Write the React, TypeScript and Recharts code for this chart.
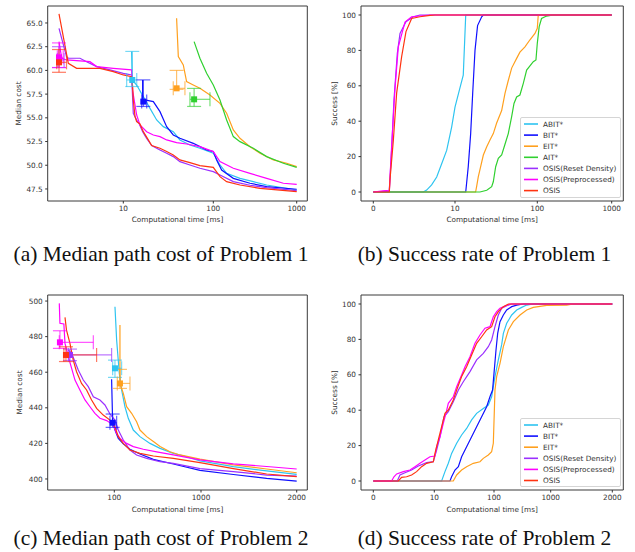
import React from 'react';
import { ComposedChart, Line, Scatter, XAxis, YAxis, ErrorBar, ReferenceArea, Label } from 'recharts';

type Pt = [number, number];
type Marker = { t: number; v: number; tLo: number; tHi: number; vLo: number; vHi: number };

const NAMES = ['ABIT*', 'BIT*', 'EIT*', 'AIT*', 'OSIS(Reset Density)', 'OSIS(Preprocessed)', 'OSIS'];
const COLORS = ['#2ec4f0', '#1010ff', '#ffa01e', '#30d030', '#9b30ff', '#ff00ff', '#ff3311'];

// Problem 1 - median cost, [time ms, cost]
const p1CostABIT: Pt[] = [[12.37, 61.98], [12.58, 58.99], [14.07, 58.46], [16.69, 57.23], [19.8, 56.0], [23.48, 54.77], [27.84, 54.07], [35.94, 53.54], [42.57, 52.67], [55.0, 52.14], [71.0, 51.79], [100, 51.26], [120.2, 50.03], [144.5, 49.15], [208.9, 48.62], [301.9, 48.27], [436.5, 47.92], [1000, 47.39]];
const p1CostBIT: Pt[] = [[16.4, 58.99], [16.4, 56.71], [17.42, 56.88], [21.56, 56.71], [25.56, 55.65], [30.32, 54.07], [35.94, 53.19], [42.57, 52.84], [59.9, 52.31], [71.0, 51.96], [84.3, 51.61], [100, 51.44], [109.6, 50.56], [125.9, 49.5], [173.8, 48.62], [275.4, 48.1], [436.5, 47.75], [1000, 47.47]];
const p1CostEIT: Pt[] = [[39.1, 65.49], [40.86, 61.45], [46.4, 60.57], [50.5, 58.82], [59.9, 58.46], [71.0, 58.11], [91.8, 57.41], [120.2, 56.53], [144.5, 55.48], [173.8, 53.72], [208.9, 52.84], [275.4, 51.96], [363.1, 51.26], [524.8, 50.56], [758.6, 50.21], [1000, 49.85]];
const p1CostAIT: Pt[] = [[61.2, 63.03], [71.0, 61.28], [84.3, 59.69], [100, 58.46], [120.2, 56.88], [144.5, 54.77], [173.8, 53.02], [208.9, 52.49], [301.9, 51.79], [436.5, 50.91], [691.8, 50.21], [1000, 49.78]];
const p1CostOSISRD: Pt[] = [[1.93, 64.44], [2.34, 61.45], [2.45, 61.28], [3.3, 61.28], [3.91, 60.92], [5.06, 60.4], [7.11, 60.05], [10, 59.69], [12.37, 59.52], [12.91, 55.48], [14.07, 54.77], [15.06, 54.35], [16.4, 53.54], [18.18, 52.84], [20.66, 52.07], [25.56, 51.61], [30.32, 51.26], [35.94, 50.91], [42.57, 50.38], [55.0, 50.03], [71.0, 49.68], [100, 49.33], [120.2, 48.98], [173.8, 48.27], [275.4, 47.89], [436.5, 47.64], [1000, 47.32]];
const p1CostOSISP: Pt[] = [[1.93, 63.03], [2.07, 61.28], [2.34, 61.1], [4.26, 60.92], [5.06, 60.4], [7.74, 60.22], [12.37, 60.05], [12.69, 57.9], [14.07, 55.3], [15.32, 54.25], [18.18, 53.54], [21.56, 53.19], [25.56, 53.02], [30.32, 52.67], [39.1, 52.38], [50.5, 52.24], [71.0, 51.96], [100, 51.44], [120.2, 50.38], [173.8, 49.68], [275.4, 49.15], [436.5, 48.62], [691.8, 48.1], [1000, 47.99]];
const p1CostOSIS: Pt[] = [[1.93, 65.95], [2.45, 60.75], [3.03, 60.22], [5.51, 60.22], [7.74, 59.87], [10, 59.52], [12.37, 59.34], [12.69, 58.29], [12.91, 56.88], [13.5, 55.13], [14.07, 54.6], [15.32, 54.35], [16.69, 53.54], [18.97, 52.67], [20.66, 52.07], [25.56, 51.79], [30.32, 51.44], [35.94, 51.08], [42.57, 50.56], [55.0, 50.28], [71.0, 49.96], [100, 49.78], [120.2, 48.8], [144.5, 48.27], [208.9, 47.92], [363.1, 47.57], [1000, 47.22]];

const p1Markers: Marker[] = [
  { t: 12.58, v: 58.99, tLo: 10.9, tHi: 14.1, vLo: 58.3, vHi: 62.0 },
  { t: 16.69, v: 56.71, tLo: 16.0, tHi: 18.2, vLo: 56.2, vHi: 59.0 },
  { t: 39.1, v: 58.11, tLo: 35.9, tHi: 48.4, vLo: 58.0, vHi: 60.0 },
  { t: 61.2, v: 56.95, tLo: 55.0, tHi: 91.8, vLo: 56.2, vHi: 58.1 },
  { t: 1.93, v: 61.1, tLo: 1.85, tHi: 2.2, vLo: 60.3, vHi: 62.5 },
  { t: 1.93, v: 61.38, tLo: 1.85, tHi: 2.15, vLo: 60.3, vHi: 62.9 },
  { t: 1.93, v: 60.85, tLo: 1.82, tHi: 2.34, vLo: 59.8, vHi: 62.2 },
];

// Problem 1 - success rate, [time ms, %]
const p1SuccABIT: Pt[] = [[0, 0], [6.12, 0], [6.53, 1.1], [7.14, 4], [7.76, 8.5], [8.37, 16], [8.98, 23.5], [9.59, 36.7], [10, 48], [11.3, 57.6], [12.6, 66], [13.5, 100], [1000, 100]];
const p1SuccBIT: Pt[] = [[0, 0], [13.5, 0], [14.5, 14.5], [15.5, 33], [16.4, 55.7], [17.5, 80], [18.8, 94], [21.1, 99], [22.1, 100], [1000, 100]];
const p1SuccEIT: Pt[] = [[0, 0], [17.8, 0], [18.3, 3], [19.2, 8.7], [20.5, 14.3], [22.1, 20.9], [24.3, 25.6], [26.6, 29.4], [29.2, 33], [32.0, 38.8], [36.9, 46], [40.5, 55.7], [44.4, 63], [48.8, 70], [56.1, 75.5], [61.5, 79], [70.8, 82], [81.5, 86], [93.7, 89.6], [100, 92.5], [103, 100], [1000, 100]];
const p1SuccAIT: Pt[] = [[0, 0], [20.1, 0], [24.3, 1], [27.9, 3], [29.2, 5.8], [31.2, 14.3], [33.6, 19], [36.9, 21], [40.5, 27], [44.4, 33], [48.8, 42.6], [52.1, 50], [56.1, 53.7], [61.5, 54.8], [67.6, 61.4], [74.2, 68.9], [89.4, 73.6], [96.3, 74.6], [100, 84], [106, 93.4], [114, 98], [133, 99.4], [164, 100], [1000, 100]];
const p1SuccOSISRD: Pt[] = [[0, 0], [1.96, 0.5], [2.24, 23.7], [2.53, 52], [2.94, 78.3], [3.27, 89.6], [4.0, 96.2], [4.9, 99], [5.71, 100], [1000, 100]];
const p1SuccOSISP: Pt[] = [[0, 0], [1.2, 0.7], [1.96, 1], [2.24, 25.5], [2.65, 58], [3.06, 82], [3.88, 96], [4.69, 99], [6.94, 100], [1000, 100]];
const p1SuccOSIS: Pt[] = [[0, 0], [1.96, 0], [2.04, 6.8], [2.45, 29], [2.86, 56], [3.47, 76.5], [4.0, 90.6], [4.69, 98], [5.71, 99], [6.94, 99.8], [7.55, 100], [1000, 100]];

// Problem 2 - median cost
const p2CostABIT: Pt[] = [[101.8, 496.8], [106.4, 478.1], [114.2, 459.4], [121.5, 450.0], [132.8, 440.6], [145.0, 434.1], [165.6, 427.5], [197.8, 423.8], [258.2, 420.0], [337.1, 417.2], [479.3, 414.4], [683.3, 412.5], [973.8, 410.2], [1338, 406.9], [1686, 404.5], [2000, 402.6]];
const p2CostBIT: Pt[] = [[93.1, 456.0], [95.7, 431.6], [101.8, 427.5], [111.2, 422.8], [127.0, 419.7], [151.6, 416.7], [197.8, 414.0], [282.2, 411.0], [479.3, 408.4], [973.8, 404.8], [1338, 402.5], [1686, 400.3], [2000, 398.8]];
const p2CostEIT: Pt[] = [[116.2, 486.5], [116.2, 453.7], [127.0, 448.1], [138.8, 440.6], [158.4, 436.9], [180.9, 432.2], [197.8, 427.5], [236.2, 423.8], [282.2, 421.0], [337.1, 418.2], [438.6, 415.3], [572.3, 413.5], [973.8, 411.2], [1338, 407.9], [1686, 405.6], [2000, 403.5]];
const p2CostOSISRD: Pt[] = [[29.5, 472.5], [32.2, 470.6], [35.2, 465.9], [38.4, 461.2], [43.9, 455.6], [50.1, 451.9], [57.3, 446.2], [68.3, 444.4], [78.0, 441.6], [89.1, 436.5], [101.8, 433.1], [111.2, 427.5], [127.0, 421.9], [151.6, 416.3], [180.9, 413.5], [236.2, 411.6], [337.1, 409.7], [479.3, 408.8], [973.8, 405.8], [1338, 404.1], [1686, 402.2], [2000, 401.6]];
const p2CostOSISP: Pt[] = [[23.2, 498.7], [23.6, 487.5], [26.2, 487.1], [27.0, 476.2], [29.5, 468.7], [32.2, 462.2], [35.2, 455.6], [40.1, 450.0], [45.9, 444.4], [52.4, 440.6], [59.8, 436.9], [68.3, 434.1], [81.6, 432.8], [97.4, 430.3], [106.4, 425.6], [116.2, 422.8], [138.8, 420.0], [165.6, 418.2], [216.1, 416.7], [308.4, 415.2], [479.3, 413.5], [973.8, 410.7], [1338, 408.5], [1686, 407.0], [2000, 405.6]];
const p2CostOSIS: Pt[] = [[27.0, 490.8], [28.1, 483.7], [30.8, 476.2], [33.6, 466.8], [36.7, 460.3], [41.9, 453.7], [47.9, 450.0], [54.7, 444.4], [62.5, 439.7], [74.6, 435.9], [89.1, 433.1], [101.8, 429.4], [111.2, 423.8], [127.0, 420.0], [151.6, 416.3], [197.8, 414.4], [282.2, 412.9], [479.3, 411.6], [973.8, 409.2], [1338, 405.8], [1686, 402.8], [2000, 401.3]];

const p2Markers: Marker[] = [
  { t: 101.8, v: 462.2, tLo: 95.7, tHi: 121.5, vLo: 457.1, vHi: 466.8 },
  { t: 95.7, v: 431.6, tLo: 89.1, tHi: 106.4, vLo: 429.0, vHi: 436.5 },
  { t: 116.2, v: 453.7, tLo: 108.3, tHi: 151.6, vLo: 450.9, vHi: 461.6 },
  { t: 30.8, v: 469.7, tLo: 29.5, tHi: 93.1, vLo: 466.5, vHi: 473.0 },
  { t: 23.6, v: 476.8, tLo: 23.2, tHi: 57.3, vLo: 473.4, vHi: 483.3 },
  { t: 27.7, v: 469.7, tLo: 26.2, tHi: 62.5, vLo: 466.0, vHi: 474.3 },
];

// Problem 2 - success rate
const p2SuccABIT: Pt[] = [[0, 0], [13.27, 0], [15.09, 5.3], [17.17, 10.0], [19.5, 15.6], [23.7, 21.3], [28.7, 26.0], [34.8, 29.7], [42.2, 34.5], [51.2, 38.2], [66.2, 41.0], [80.3, 42.9], [91.3, 47.6], [104.1, 59.0], [119.2, 68.4], [136.6, 77.0], [146.2, 83.4], [167.4, 89.1], [205.2, 93.8], [251.5, 96.6], [307.9, 98.1], [377.0, 99.4], [493.7, 100], [2000, 100]];
const p2SuccBIT: Pt[] = [[0, 0], [18.3, 0], [19.5, 2.4], [22.2, 6.2], [25.3, 8.1], [28.7, 13.7], [34.8, 19.4], [42.2, 25.0], [51.2, 30.7], [62.1, 36.3], [75.3, 42.0], [85.6, 47.6], [94.6, 51.4], [100, 60.8], [108.5, 74.0], [116.1, 83.4], [127.6, 90.0], [146.2, 93.8], [167.4, 96.6], [205.2, 98.5], [251.5, 99.4], [329.7, 100], [2000, 100]];
const p2SuccEIT: Pt[] = [[0, 0], [20.8, 0], [23.7, 3.4], [28.7, 6.2], [34.8, 8.1], [45.0, 10.0], [58.2, 10.9], [66.2, 12.8], [80.3, 14.7], [91.3, 16.6], [97.4, 21.3], [104.1, 51.4], [111.4, 59.0], [127.6, 66.5], [146.2, 75.9], [179.2, 85.3], [219.6, 90.0], [287.9, 93.8], [377.0, 96.6], [493.7, 98.1], [850, 99.2], [1259, 99.4], [1368, 100], [2000, 100]];
const p2SuccOSISRD: Pt[] = [[0, 0], [3.93, 0], [4.37, 3.4], [5.19, 4.7], [6.28, 6.2], [7.38, 8.5], [8.74, 10.4], [9.84, 10.9], [10.94, 17.5], [12.44, 25.0], [14.52, 36.3], [17.17, 39.2], [20.8, 44.8], [25.3, 51.4], [30.6, 56.1], [39.6, 61.8], [51.2, 68.4], [66.2, 72.1], [80.3, 75.9], [91.3, 79.7], [104.1, 87.2], [119.2, 93.8], [136.6, 97.6], [179.2, 99.4], [205.2, 100], [2000, 100]];
const p2SuccOSISP: Pt[] = [[0, 0], [3.0, 0], [3.39, 2.4], [3.83, 4.0], [4.92, 5.3], [6.01, 6.2], [6.83, 8.1], [7.65, 10.0], [8.47, 11.9], [9.29, 13.7], [10.26, 14.1], [10.94, 19.4], [12.44, 25.0], [14.15, 32.6], [15.67, 38.2], [17.17, 43.9], [20.8, 47.6], [23.7, 53.3], [28.7, 59.9], [32.7, 64.6], [39.6, 70.2], [48.0, 77.8], [58.2, 82.5], [70.6, 86.3], [85.6, 87.2], [97.4, 92.8], [111.4, 95.7], [127.6, 97.6], [156.4, 98.9], [191.7, 100], [2000, 100]];
const p2SuccOSIS: Pt[] = [[0, 0], [4.1, 0], [4.64, 2.1], [5.46, 2.4], [6.28, 3.4], [7.1, 5.3], [7.92, 8.1], [8.74, 10.0], [9.84, 10.9], [10.26, 15.6], [11.67, 23.2], [13.27, 30.7], [15.09, 38.2], [17.17, 40.1], [20.8, 45.8], [23.7, 51.4], [28.7, 59.0], [34.8, 64.6], [42.2, 71.2], [51.2, 77.8], [62.1, 81.5], [75.3, 85.3], [91.3, 87.2], [104.1, 92.8], [119.2, 95.7], [146.2, 98.5], [179.2, 100], [2000, 100]];

const p1XTicks = [10, 100, 1000];
const p1SuccXTicks = [0, 10, 100, 1000];
const p2XTicks = [100, 1000, 2000];
const p2SuccXTicks = [0, 10, 100, 1000, 2000];
const costTicks1 = [47.5, 50, 52.5, 55, 57.5, 60, 62.5, 65];
const costTicks2 = [400, 420, 440, 460, 480, 500];
const succTicks = [0, 20, 40, 60, 80, 100];

const FONT = '"DejaVu Sans", sans-serif';
const TXT = '#333';

// piecewise time axis: linear or log between tick anchors (page px)
const mapAxis = (ts: number[], ps: number[], logSeg: boolean[]) => (t: number) => {
  let i = 0;
  while (i < ts.length - 2 && t > ts[i + 1]) i++;
  const f = logSeg[i]
    ? Math.log10(t / ts[i]) / Math.log10(ts[i + 1] / ts[i])
    : (t - ts[i]) / (ts[i + 1] - ts[i]);
  return ps[i] + f * (ps[i + 1] - ps[i]);
};

interface PanelProps {
  left: number;
  top: number;
  width: number;
  height: number;
  box: { x0: number; x1: number; y0: number; y1: number };
  xMap: (t: number) => number;
  xTicks: number[];
  yDomain: [number, number];
  yTicks: number[];
  yFmt: (v: number) => string;
  yLabel: string;
  yLabelX: number;
  xLabelY: number;
  series: Pt[][];
  colorIdx: number[];
  markers?: Marker[];
  legend?: { x: number; y: number; w: number; h: number };
}

function Panel(p: PanelProps) {
  const { left, top, width, height, box, xMap } = p;
  const tickPos = p.xTicks.map(xMap);
  const fmtX = (v: number) => {
    const i = tickPos.findIndex((q) => Math.abs(q - v) < 0.01);
    return i >= 0 ? String(p.xTicks[i]) : '';
  };
  const tickStyle = { fontSize: 7.3, fill: TXT, fontFamily: FONT };
  const cx = (box.x0 + box.x1) / 2 - left;
  const cy = (box.y0 + box.y1) / 2 - top;

  return (
    <div style={{ position: 'absolute', left, top, width, height }}>
      <ComposedChart
        width={width}
        height={height}
        margin={{ top: box.y0 - top, right: left + width - box.x1, bottom: 0, left: 0 }}
      >
        <XAxis
          type="number"
          dataKey="x"
          domain={[box.x0, box.x1]}
          allowDataOverflow
          ticks={tickPos}
          interval={0}
          tickFormatter={fmtX}
          height={top + height - box.y1}
          axisLine={false}
          tickSize={2.5}
          tickMargin={2.5}
          tickLine={{ stroke: TXT }}
          tick={tickStyle}
          label={
            <Label
              content={() => (
                <text x={cx} y={p.xLabelY - top} textAnchor="middle" dominantBaseline="central" style={tickStyle}>
                  Computational time [ms]
                </text>
              )}
            />
          }
        />
        <YAxis
          type="number"
          dataKey="y"
          domain={p.yDomain}
          allowDataOverflow
          ticks={p.yTicks}
          interval={0}
          tickFormatter={p.yFmt}
          width={box.x0 - left}
          axisLine={false}
          tickSize={2.5}
          tickMargin={2.5}
          tickLine={{ stroke: TXT }}
          tick={tickStyle}
          label={
            <Label
              content={() => (
                <text
                  x={p.yLabelX - left}
                  y={cy}
                  textAnchor="middle"
                  dominantBaseline="central"
                  transform={`rotate(-90 ${p.yLabelX - left} ${cy})`}
                  style={tickStyle}
                >
                  {p.yLabel}
                </text>
              )}
            />
          }
        />
        <ReferenceArea
          x1={box.x0}
          x2={box.x1}
          y1={p.yDomain[0]}
          y2={p.yDomain[1]}
          fill="none"
          stroke="#3a3a3a"
          strokeWidth={1}
          ifOverflow="visible"
        />
        {p.series.map((s, i) => (
          <Line
            key={`l-${i}`}
            data={s.map(([t, v]) => ({ x: xMap(t), y: v }))}
            dataKey="y"
            type="linear"
            stroke={COLORS[p.colorIdx[i]]}
            strokeWidth={1.2}
            dot={false}
            activeDot={false}
            isAnimationActive={false}
          />
        ))}
        {p.markers &&
          p.markers.map((m, i) => {
            const c = COLORS[p.colorIdx[i]];
            const x = xMap(m.t);
            const row = {
              x,
              y: m.v,
              ex: [x - xMap(m.tLo), xMap(m.tHi) - x],
              ey: [m.v - m.vLo, m.vHi - m.v],
            };
            return (
              <Scatter
                key={`m-${i}`}
                data={[row]}
                dataKey="y"
                fill={c}
                isAnimationActive={false}
                shape={(sp: any) => <rect x={sp.cx - 3} y={sp.cy - 3} width={6} height={6} fill={c} />}
              >
                <ErrorBar dataKey="ex" direction="x" width={7} stroke={c} strokeWidth={1.2} strokeOpacity={0.65} />
                <ErrorBar dataKey="ey" direction="y" width={7} stroke={c} strokeWidth={1.2} strokeOpacity={0.65} />
              </Scatter>
            );
          })}
      </ComposedChart>
      {p.legend && (
        <div
          style={{
            position: 'absolute',
            left: p.legend.x - left,
            top: p.legend.y - top,
            width: p.legend.w,
            height: p.legend.h,
            border: '1px solid #d5d5d5',
            borderRadius: 2,
            background: 'rgba(255,255,255,0.85)',
            boxSizing: 'border-box',
          }}
        >
          <svg width={p.legend.w} height={p.legend.h} style={{ position: 'absolute', left: -1, top: -1 }}>
            {p.colorIdx.map((ci, i) => {
              const yy = 7 + i * 11.1;
              return (
                <g key={ci}>
                  <line x1={4} x2={18} y1={yy} y2={yy} stroke={COLORS[ci]} strokeWidth={1.6} />
                  <text x={23} y={yy} dominantBaseline="central" style={{ fontSize: 7.3, fill: TXT, fontFamily: FONT }}>
                    {NAMES[ci]}
                  </text>
                </g>
              );
            })}
          </svg>
        </div>
      )}
    </div>
  );
}

const CAP = { fontFamily: '"Liberation Serif", "Times New Roman", serif', fontSize: 21.5, fill: '#111' };

export default function App() {
  const all7 = [0, 1, 2, 3, 4, 5, 6];
  const six = [0, 1, 2, 4, 5, 6];
  return (
    <div style={{ position: 'absolute', left: 0, top: 0, width: 635, height: 552, background: '#fff', overflow: 'hidden' }}>
      <Panel
        left={0}
        top={0}
        width={320}
        height={235}
        box={{ x0: 47.7, x1: 307.3, y0: 6, y1: 201 }}
        xMap={mapAxis([10, 100, 1000], [123.3, 213.3, 296.7], [true, true])}
        xTicks={p1XTicks}
        yDomain={[46.23, 66.79]}
        yTicks={costTicks1}
        yFmt={(v) => v.toFixed(1)}
        yLabel="Median cost"
        yLabelX={18.3}
        xLabelY={219.5}
        series={[p1CostABIT, p1CostBIT, p1CostEIT, p1CostAIT, p1CostOSISRD, p1CostOSISP, p1CostOSIS]}
        colorIdx={all7}
        markers={p1Markers}
      />
      <Panel
        left={320}
        top={0}
        width={315}
        height={235}
        box={{ x0: 361, x1: 623.3, y0: 6, y1: 201 }}
        xMap={mapAxis([0, 10, 100, 1000], [373.3, 455, 537.3, 611.7], [false, true, true])}
        xTicks={p1SuccXTicks}
        yDomain={[-5.08, 105.08]}
        yTicks={succTicks}
        yFmt={(v) => String(v)}
        yLabel="Success [%]"
        yLabelX={334}
        xLabelY={219.5}
        series={[p1SuccABIT, p1SuccBIT, p1SuccEIT, p1SuccAIT, p1SuccOSISRD, p1SuccOSISP, p1SuccOSIS]}
        colorIdx={all7}
        legend={{ x: 520, y: 117, w: 101, h: 81 }}
      />
      <Panel
        left={0}
        top={290}
        width={320}
        height={225}
        box={{ x0: 47.7, x1: 307.3, y0: 295, y1: 490 }}
        xMap={mapAxis([100, 1000, 2000], [114.3, 201, 296.7], [true, false])}
        xTicks={p2XTicks}
        yDomain={[393.8, 503.4]}
        yTicks={costTicks2}
        yFmt={(v) => String(v)}
        yLabel="Median cost"
        yLabelX={19}
        xLabelY={509}
        series={[p2CostABIT, p2CostBIT, p2CostEIT, p2CostOSISRD, p2CostOSISP, p2CostOSIS]}
        colorIdx={six}
        markers={p2Markers}
      />
      <Panel
        left={320}
        top={290}
        width={315}
        height={225}
        box={{ x0: 361, x1: 623.3, y0: 295, y1: 490 }}
        xMap={mapAxis([0, 10, 100, 1000, 2000], [373.3, 434.3, 494, 550.7, 612.3], [false, true, true, false])}
        xTicks={p2SuccXTicks}
        yDomain={[-5.08, 105.08]}
        yTicks={succTicks}
        yFmt={(v) => String(v)}
        yLabel="Success [%]"
        yLabelX={334}
        xLabelY={509}
        series={[p2SuccABIT, p2SuccBIT, p2SuccEIT, p2SuccOSISRD, p2SuccOSISP, p2SuccOSIS]}
        colorIdx={six}
        legend={{ x: 520, y: 417.7, w: 101, h: 69 }}
      />
      <svg width={635} height={552} style={{ position: 'absolute', left: 0, top: 0, pointerEvents: 'none' }}>
        <text x={161} y={261} textAnchor="middle" style={CAP}>(a) Median path cost of Problem 1</text>
        <text x={484.5} y={261} textAnchor="middle" style={CAP}>(b) Success rate of Problem 1</text>
        <text x={161} y={545} textAnchor="middle" style={CAP}>(c) Median path cost of Problem 2</text>
        <text x={484.5} y={545} textAnchor="middle" style={CAP}>(d) Success rate of Problem 2</text>
      </svg>
    </div>
  );
}
